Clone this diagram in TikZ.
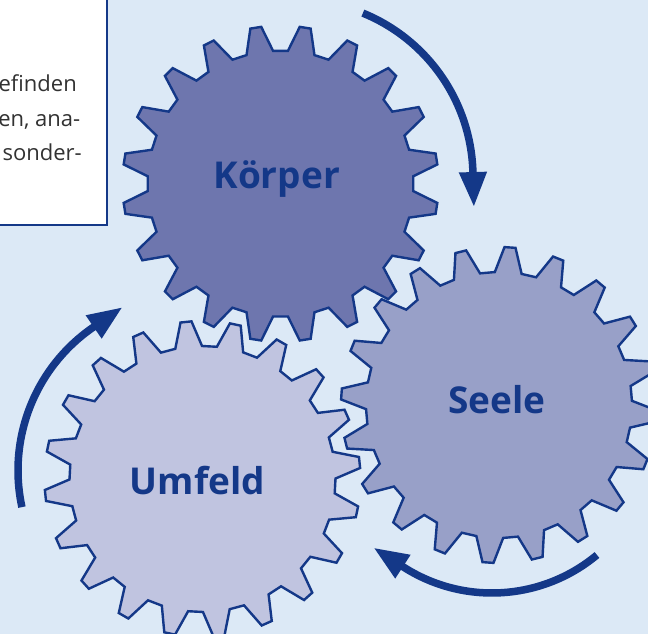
\documentclass[tikz,border=0pt]{standalone}
\usepackage{fontspec}
\setmainfont{Open Sans}
\usetikzlibrary{arrows.meta,calc}
\definecolor{bgblue}{RGB}{220,233,246}
\definecolor{navy}{RGB}{20,56,136}
\definecolor{gearA}{RGB}{110,118,174}
\definecolor{gearB}{RGB}{152,160,200}
\definecolor{gearC}{RGB}{192,196,224}
\definecolor{bodytext}{RGB}{50,50,50}
\begin{document}
\begin{tikzpicture}[x=1pt,y=1pt,
  gear/.style={draw=navy, line width=2.4pt, line join=miter},
  gearlabel/.style={text=navy, font=\fontsize{37}{44}\selectfont\bfseries, anchor=base, inner sep=0pt},
  turn/.style={draw=navy, line width=7.5pt, -{Triangle[length=35pt,width=26pt]}},
  bodyline/.style={text=bodytext, font=\fontsize{22}{26}\selectfont, anchor=base east, inner sep=0pt}]
\useasboundingbox (0,0) rectangle (648,634);
\clip (0,0) rectangle (648,634);
\fill[bgblue] (0,0) rectangle (648,634);

% framed text box, cut by the left and top edges
\draw[fill=white, draw=navy, line width=2pt] (-10,409) rectangle (106.5,650);
\node[bodyline] (l1) at (77,542.3) {efinden};
\node[bodyline] (l2) at (80.5,507.3) {en, ana-};
\node[bodyline] (l3) at (82,473.3) {sonder-};

% three gears with 20 teeth each: root radius 133, tip radius 158
\begin{scope}[shift={(202.5,155)}]
  \filldraw[gear, fill=gearC] ({0.2}:133) \foreach \k in {0,...,19}{ -- ({6+18*\k-5.8}:133) -- ({6+18*\k-2}:158) -- ({6+18*\k+2}:158) -- ({6+18*\k+5.8}:133) } -- cycle;
\end{scope}
\begin{scope}[shift={(499,229)}]
  \filldraw[gear, fill=gearB] ({8.2}:133) \foreach \k in {0,...,19}{ -- ({14+18*\k-5.8}:133) -- ({14+18*\k-2}:158) -- ({14+18*\k+2}:158) -- ({14+18*\k+5.8}:133) } -- cycle;
\end{scope}
\begin{scope}[shift={(280.5,450.3)}]
  \filldraw[gear, fill=gearA] ({3.2}:133) \foreach \k in {0,...,19}{ -- ({9+18*\k-5.8}:133) -- ({9+18*\k-2}:158) -- ({9+18*\k+2}:158) -- ({9+18*\k+5.8}:133) } -- cycle;
\end{scope}

\node[gearlabel] (koerper) at (276.7,445.7) {Körper};
\node[gearlabel] (seele) at (496.7,220.7) {Seele};
\node[gearlabel] (umfeld) at (197.3,139) {Umfeld};

% clockwise turning arrows
\draw[turn] ($(296,457)+(67.8:177)$) arc[start angle=67.8, end angle=1.6, radius=177] -- ++(0.98,-35);
\draw[turn] ($(492,205)+(-50.2:164)$) arc[start angle=-50.2, end angle=-122.9, radius=164] -- ++(-29.4,19.0);
\draw[turn] ($(191.8,163.6)+(192.2:173.8)$) arc[start angle=192.2, end angle=124.4, radius=173.8] -- ++(28.9,19.8);
\end{tikzpicture}
\end{document}
